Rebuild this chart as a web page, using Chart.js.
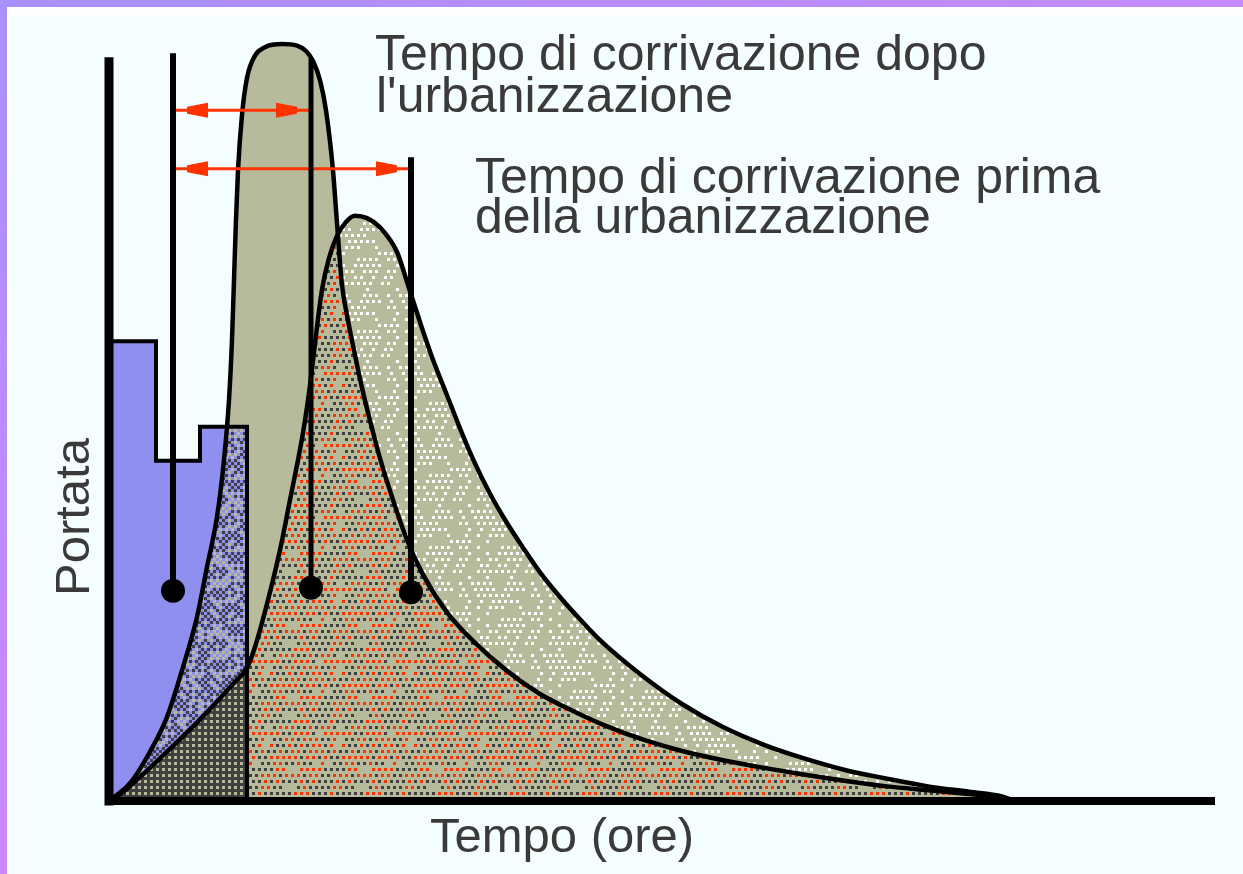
<!DOCTYPE html>
<html><head><meta charset="utf-8">
<script src="https://cdn.jsdelivr.net/npm/chart.js@4/dist/chart.umd.min.js"></script>
<style>
html,body{margin:0;padding:0;background:#f5fefe;overflow:hidden}
#wrap{position:relative;width:1243px;height:874px;background:#f5fefe}
canvas{position:absolute;left:0;top:0}
.bt{position:absolute;left:0;top:0;width:1243px;height:7px;background:linear-gradient(90deg,#a990ff,#c68aff)}
.bl{position:absolute;left:0;top:0;width:7px;height:874px;background:linear-gradient(180deg,#a990ff,#cc88ff)}
.wt{position:absolute;left:7px;top:7px;width:1236px;height:8px;background:#fff}
.wl{position:absolute;left:7px;top:7px;width:2px;height:867px;background:#fff}
</style></head><body>
<div id="wrap"><canvas id="c" width="1243" height="874"></canvas><div class="wt"></div><div class="wl"></div><div class="bt"></div><div class="bl"></div></div>
<script>
// ---------- data (time in hours, flow in arbitrary units) ----------
const rainT = [0, 0.94, 1.82, 2.76];
const rainQ = [59.7, 44.2, 48.6, 0];

const afterT = [0, 0.42, 0.82, 1.16, 1.48, 1.76, 1.96, 2.16, 2.30, 2.40, 2.46, 2.50, 2.54, 2.58, 2.66, 2.76, 2.92, 3.12, 3.46, 3.76, 3.94, 4.08, 4.22, 4.34, 4.48, 4.54, 4.60, 4.66, 4.76, 4.92, 5.08, 5.26, 5.42, 5.68, 5.96, 6.28, 6.76, 7.28, 7.96, 8.62, 9.28, 9.96, 10.72, 11.46, 12.28, 13.10, 13.92, 14.74, 15.56, 16.38, 17.20, 17.82, 18.02];
const afterQ = [0, 2.3, 6.4, 10.9, 17.4, 23.9, 30.4, 36.9, 44.3, 52.1, 59.9, 67.7, 75.5, 81.9, 89.1, 93.9, 96.8, 97.9, 98.3, 98.1, 97.4, 96.1, 93.6, 89.7, 81.9, 76.8, 71.6, 67.0, 63.1, 57.9, 53.1, 48.4, 44.5, 39.1, 33.9, 29.4, 24.5, 20.8, 16.9, 13.9, 11.7, 9.7, 7.9, 6.5, 5.3, 4.3, 3.4, 2.6, 1.9, 1.4, 0.9, 0.4, 0];

const beforeT = [0, 0.22, 0.48, 0.82, 1.16, 1.82, 2.48, 2.76, 2.92, 3.18, 3.42, 3.62, 3.88, 4.02, 4.14, 4.26, 4.40, 4.56, 4.74, 4.92, 5.16, 5.42, 5.76, 5.98, 6.22, 6.48, 6.76, 7.02, 7.28, 7.62, 7.96, 8.28, 8.62, 9.02, 9.42, 9.82, 10.64, 11.46, 12.28, 13.10, 13.92, 14.74, 15.56, 16.38, 17.20, 17.86, 18.12];
const beforeQ = [0, 0.9, 2.3, 4.3, 6.4, 10.6, 15.2, 17.3, 20.0, 26.1, 32.6, 39.1, 47.8, 54.0, 60.5, 66.4, 70.5, 73.4, 75.2, 76.0, 75.7, 74.5, 71.3, 67.0, 62.2, 57.3, 52.7, 48.4, 44.4, 39.9, 36.1, 32.9, 29.7, 26.5, 23.6, 20.9, 16.4, 12.6, 9.6, 7.3, 5.5, 4.0, 2.9, 1.9, 1.2, 0.6, 0];

// marker lines: centroid of rain, peak after, peak before
const markT = [1.28, 4.04, 6.04];
const markTopQ = [97.1, 96.5, 83.6];
const markBallQ = [27.3, 27.7, 27.1];
// arrows (lag times): from markT[0] to markT[1] / markT[2]
const arrowQ = [89.7, 82.1];

const axisT = [0, 22.12];
const axisQ = [0, 96.0];

const noteAfter = ['Tempo di corrivazione dopo', "l'urbanizzazione"];
const noteBefore = ['Tempo di corrivazione prima', 'della urbanizzazione'];
const xTitle = 'Tempo (ore)';
const yTitle = 'Portata';

// ---------- styles ----------
const KH = '#b7bb9c', DK = '#404040', RD = '#ff3300', BL = '#8f8ff0', WH = '#ffffff', TXT = '#3a3a3a';
function hsh(x, y, s) {
  let v = Math.imul(x + 1, 374761393) ^ Math.imul(y + 7, 668265263) ^ Math.imul(s + 3, 2246822519);
  v = Math.imul(v ^ (v >>> 13), 1274126177); v ^= v >>> 16;
  return (v >>> 0) / 4294967296;
}
function makePattern(fn) {
  const cell = 3, n = 24, c = document.createElement('canvas');
  c.width = c.height = cell * n;
  const g = c.getContext('2d');
  for (let y = 0; y < n; y++) for (let x = 0; x < n; x++) {
    g.fillStyle = fn(x, y); g.fillRect(x * cell, y * cell, cell, cell);
  }
  return g.createPattern(c, 'repeat');
}
const grid2 = (x, y) => (x % 2 === 0 && y % 2 === 0);
const P_WHITE = makePattern((x, y) => (grid2(x + ((y >> 1) % 2), y) && hsh(x, y, 1) < 0.6) ? WH : KH);
const P_RED = makePattern((x, y) => {
  if (!grid2(x + ((y >> 1) % 2), y)) return KH;
  const r = hsh(x, y, 2);
  return r < 0.46 ? RD : (r < 0.92 ? DK : KH);
});
const P_DARK = makePattern((x, y) => grid2(x, y) ? KH : DK);
const P_BLUE = makePattern((x, y) => ((x + y) % 2 === 0) ? BL : (hsh(x, y, 4) < 0.6 ? DK : KH));

const xy = (T, Q) => T.map((t, i) => ({x: t, y: Q[i]}));
const rainEnd = rainT[rainT.length - 1];
const leftSeg = c => c.p1.parsed.x <= rainEnd + 1e-9;

const markerSets = markT.map((t, i) => ({
  data: [{x: t, y: markTopQ[i]}, {x: t, y: markBallQ[i]}],
  borderColor: '#000', borderWidth: [6, 5, 6][i], fill: false, clip: false,
  pointRadius: c => c.dataIndex === 1 ? 12 : 0, pointBackgroundColor: '#000', pointBorderWidth: 0
}));
const arrowSets = arrowQ.map((q, i) => ({
  data: [{x: markT[0], y: q}, {x: markT[i + 1], y: q}],
  borderColor: RD, borderWidth: 3, fill: false, clip: false, pointRadius: 0, isArrow: true
}));

const arrowPlugin = {
  id: 'arrowheads',
  afterDatasetsDraw(chart) {
    const ctx = chart.ctx;
    chart.data.datasets.forEach((ds, di) => {
      if (!ds.isArrow) return;
      const pts = chart.getDatasetMeta(di).data;
      const a = pts[0], b = pts[1];
      ctx.save(); ctx.fillStyle = RD;
      const head = (tipX, dir, y) => {
        const baseX = tipX + dir * 21;
        ctx.beginPath();
        ctx.moveTo(tipX, y - 3.5); ctx.lineTo(baseX, y - 7.5); ctx.lineTo(baseX, y + 7.5); ctx.lineTo(tipX, y + 3.5);
        ctx.closePath(); ctx.fill();
      };
      head(a.x + 14, 1, a.y);
      head(b.x - 14, -1, b.y);
      ctx.restore();
    });
  }
};
const labelPlugin = {
  id: 'labels',
  afterDraw(chart) {
    const ctx = chart.ctx;
    ctx.save();
    ctx.fillStyle = TXT; ctx.textAlign = 'left'; ctx.textBaseline = 'alphabetic';
    ctx.font = '50px "Liberation Sans", Arial, sans-serif';
    ctx.fillText(noteAfter[0], 375, 70);
    ctx.fillText(noteAfter[1], 376, 112);
    ctx.fillText(noteBefore[0], 475, 193);
    ctx.fillText(noteBefore[1], 475, 233);
    ctx.font = '49px "Liberation Sans", Arial, sans-serif';
    ctx.fillText(xTitle, 430, 852);
    ctx.translate(89, 596); ctx.rotate(-Math.PI / 2);
    ctx.font = '49px "Liberation Sans", Arial, sans-serif';
    ctx.fillText(yTitle, 0, 0);
    ctx.restore();
  }
};

new Chart(document.getElementById('c'), {
  type: 'line',
  data: {
    datasets: [
      ...markerSets,                                   // 0-2
      ...arrowSets,                                    // 3-4
      { // 5 y axis
        data: [{x: axisT[0], y: axisQ[0]}, {x: axisT[0], y: axisQ[1]}],
        borderColor: '#000', borderWidth: 9, borderCapStyle: 'square', fill: false, clip: false, pointRadius: 0
      },
      { // 6 x axis
        data: [{x: axisT[0], y: axisQ[0]}, {x: axisT[1], y: axisQ[0]}],
        borderColor: '#000', borderWidth: 8, fill: false, clip: false, pointRadius: 0
      },
      { // 7 rainfall
        data: xy(rainT, rainQ), stepped: 'before',
        borderColor: '#000', borderWidth: 4, borderJoinStyle: 'miter', backgroundColor: BL,
        fill: {target: '+1', above: BL, below: KH}, clip: false, pointRadius: 0
      },
      { // 8 after urbanization
        data: xy(afterT, afterQ), cubicInterpolationMode: 'monotone',
        borderColor: '#000', borderWidth: 4.5, borderCapStyle: 'round', borderJoinStyle: 'round',
        backgroundColor: KH, fill: {target: '+1', above: KH, below: P_WHITE},
        segment: {backgroundColor: c => leftSeg(c) ? P_BLUE : undefined},
        clip: false, pointRadius: 0
      },
      { // 9 before urbanization
        data: xy(beforeT, beforeQ), cubicInterpolationMode: 'monotone',
        borderColor: '#000', borderWidth: 4.5, borderCapStyle: 'round', borderJoinStyle: 'round',
        backgroundColor: P_RED, fill: 'origin',
        segment: {backgroundColor: c => leftSeg(c) ? P_DARK : P_RED},
        clip: false, pointRadius: 0
      }
    ]
  },
  options: {
    responsive: false, animation: false, events: [],
    layout: {padding: {left: 109, right: 28, top: 31, bottom: 73}},
    scales: {
      x: {type: 'linear', min: 0, max: 22.12, display: false},
      y: {type: 'linear', min: 0, max: 100, display: false}
    },
    plugins: {
      legend: {display: false}, tooltip: {enabled: false},
      filler: {propagate: false, drawTime: 'beforeDatasetsDraw'}
    },
    elements: {point: {radius: 0, hoverRadius: 0}}
  },
  plugins: [arrowPlugin, labelPlugin]
});
</script>
</body></html>
